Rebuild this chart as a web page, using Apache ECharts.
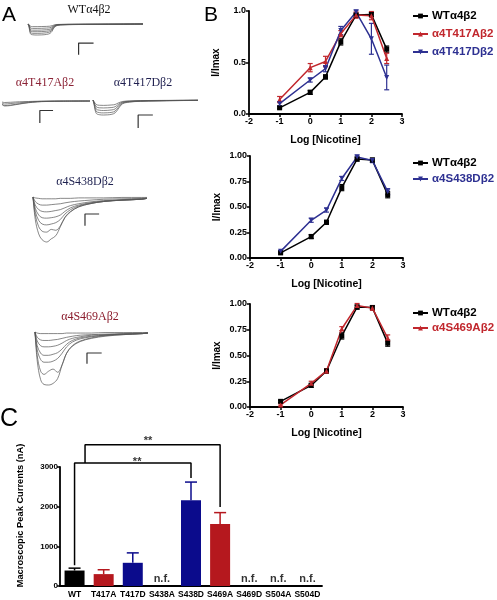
<!DOCTYPE html>
<html><head><meta charset="utf-8">
<script src="https://cdn.jsdelivr.net/npm/echarts@6/dist/echarts.min.js"></script>
<style>html,body{margin:0;padding:0;background:#fff}#c{width:497px;height:600px}</style>
</head><body><div id="c"></div>
<script>
// ---------- Panel B data (concentration-response) ----------
const logConc = [-1, 0, 0.5, 1, 1.5, 2, 2.5];
const b1WT = [0.06, 0.21, 0.36, 0.70, 0.96, 0.965, 0.63];
const b1WTErr = [0.01, 0.02, 0.02, 0.03, 0.02, 0.02, 0.03];
const b1T417A = [0.14, 0.45, 0.51, 0.78, 0.96, 0.955, 0.54];
const b1T417AErr = [0.03, 0.04, 0.05, 0.03, 0.03, 0.04, 0.05];
const b1T417D = [0.10, 0.33, 0.44, 0.81, 0.99, 0.73, 0.355];
const b1T417DErr = [0.02, 0.02, 0.03, 0.04, 0.02, 0.15, 0.12];
const b2WT = [0.05, 0.21, 0.35, 0.69, 0.97, 0.96, 0.62];
const b2WTErr = [0.01, 0.02, 0.02, 0.03, 0.02, 0.02, 0.03];
const b2S438D = [0.065, 0.37, 0.47, 0.78, 0.99, 0.955, 0.65];
const b2S438DErr = [0.01, 0.02, 0.02, 0.02, 0.02, 0.02, 0.03];
const b3WT = [0.055, 0.21, 0.35, 0.69, 0.97, 0.965, 0.62];
const b3WTErr = [0.01, 0.02, 0.02, 0.03, 0.02, 0.02, 0.03];
const b3S469A = [0.02, 0.23, 0.35, 0.76, 0.985, 0.96, 0.67];
const b3S469AErr = [0.01, 0.02, 0.02, 0.02, 0.02, 0.02, 0.03];
const xTicksB = [-2, -1, 0, 1, 2, 3];

// ---------- Panel C data (peak currents) ----------
const barCats = ['WT', 'T417A', 'T417D', 'S438A', 'S438D', 'S469A', 'S469D', 'S504A', 'S504D'];
const barVals = [390, 300, 585, null, 2160, 1560, null, null, null];
const barErrTop = [450, 410, 835, null, 2620, 1850, null, null, null];
const nfIdx = [3, 6, 7, 8];
const yTicksC = [0, 1000, 2000, 3000];
// significance brackets: [x (category position), value]
const bracketLow = [[0, 520], [0, 3100], [4, 3100], [4, 2720]];
const bracketHigh = [[0.36, 3100], [0.36, 3560], [5, 3560], [5, 1990]];
const starsPos = [[2.15, 3130], [2.52, 3660]];

// ---------- Panel A data (current traces, normalized) ----------
const tWT = [0, 1, 2, 4, 8, 12, 16, 19, 21, 23, 26, 30, 40, 60, 80, 100];
const trWT = [
  [0, -0.05, -0.2, -0.24, -0.24, -0.23, -0.22, -0.2, -0.15, -0.08, -0.04, -0.03, -0.02, -0.01, -0.01, 0],
  [0, -0.1, -0.35, -0.4, -0.4, -0.39, -0.37, -0.34, -0.25, -0.12, -0.06, -0.04, -0.03, -0.02, -0.01, 0],
  [0, -0.15, -0.5, -0.56, -0.56, -0.55, -0.52, -0.48, -0.35, -0.16, -0.07, -0.05, -0.03, -0.02, -0.01, 0],
  [0, -0.2, -0.62, -0.7, -0.7, -0.69, -0.66, -0.6, -0.45, -0.2, -0.08, -0.06, -0.04, -0.03, -0.02, 0],
  [0, -0.25, -0.75, -0.85, -0.85, -0.84, -0.8, -0.72, -0.55, -0.24, -0.1, -0.07, -0.05, -0.03, -0.02, 0],
  [0, -0.3, -0.88, -0.98, -1.0, -0.99, -0.95, -0.86, -0.65, -0.28, -0.12, -0.08, -0.05, -0.04, -0.02, 0]
];
const scaleWT = [[44, -2.8], [44, -1.73], [57, -1.73]];

const tT417A = [0, 3, 10, 20, 30, 40, 50, 70, 100];
const trT417A = [
  [-0.2, -0.3, -0.25, -0.15, -0.1, -0.05, -0.03, -0.01, 0],
  [-0.4, -0.6, -0.5, -0.35, -0.2, -0.1, -0.05, -0.02, 0],
  [-0.6, -0.9, -0.8, -0.55, -0.3, -0.15, -0.08, -0.03, 0],
  [-0.7, -1.0, -0.9, -0.6, -0.35, -0.18, -0.1, -0.04, -0.01]
];
const scaleT417A = [[43, -4.4], [43, -1.9], [58, -1.9]];

const tT417D = [0, 1, 3, 6, 10, 14, 18, 21, 24, 28, 35, 45, 60, 80, 100];
const trT417D = [
  [0, -0.1, -0.3, -0.35, -0.36, -0.35, -0.33, -0.3, -0.2, -0.1, -0.06, -0.04, -0.03, -0.02, -0.01],
  [0, -0.15, -0.45, -0.52, -0.53, -0.52, -0.5, -0.45, -0.3, -0.14, -0.08, -0.05, -0.04, -0.03, -0.02],
  [0, -0.2, -0.6, -0.68, -0.7, -0.69, -0.66, -0.6, -0.4, -0.18, -0.1, -0.07, -0.05, -0.03, -0.02],
  [0, -0.25, -0.75, -0.84, -0.86, -0.85, -0.82, -0.74, -0.5, -0.22, -0.12, -0.08, -0.06, -0.04, -0.02],
  [0, -0.3, -0.88, -0.98, -1.0, -0.99, -0.95, -0.86, -0.6, -0.26, -0.14, -0.09, -0.06, -0.04, -0.03]
];
const scaleT417D = [[43, -1.87], [43, -1.0], [57, -1.0]];

const tS438D = [0, 2, 5, 8, 12, 16, 20, 24, 28, 33, 40, 50, 62, 78, 95, 100];
const trS438D = [
  [0, -0.02, -0.03, -0.04, -0.04, -0.04, -0.04, -0.03, -0.03, -0.03, -0.02, -0.02, -0.02, -0.01, -0.01, -0.01],
  [0, -0.10, -0.16, -0.18, -0.18, -0.17, -0.16, -0.15, -0.13, -0.11, -0.09, -0.07, -0.05, -0.04, -0.03, -0.02],
  [0, -0.18, -0.28, -0.32, -0.33, -0.32, -0.30, -0.28, -0.24, -0.19, -0.15, -0.11, -0.08, -0.06, -0.04, -0.03],
  [0, -0.25, -0.40, -0.46, -0.47, -0.46, -0.44, -0.40, -0.32, -0.24, -0.18, -0.13, -0.09, -0.07, -0.05, -0.03],
  [0, -0.32, -0.52, -0.60, -0.62, -0.60, -0.57, -0.50, -0.38, -0.28, -0.20, -0.14, -0.10, -0.07, -0.05, -0.03],
  [0, -0.40, -0.66, -0.76, -0.78, -0.72, -0.74, -0.64, -0.45, -0.32, -0.22, -0.15, -0.10, -0.07, -0.05, -0.03],
  [0, -0.50, -0.82, -0.95, -1.00, -0.93, -0.86, -0.66, -0.46, -0.33, -0.22, -0.15, -0.10, -0.07, -0.05, -0.03]
];
const scaleS438D = [[45.6, -0.64], [45.6, -0.378], [58, -0.378]];

const tS469A = [0, 2, 5, 8, 12, 16, 20, 24, 28, 33, 40, 50, 62, 78, 95, 100];
const trS469A = [
  [0, -0.02, -0.03, -0.03, -0.03, -0.03, -0.03, -0.03, -0.02, -0.02, -0.02, -0.02, -0.01, -0.01, -0.01, -0.01],
  [0, -0.10, -0.15, -0.16, -0.16, -0.15, -0.14, -0.12, -0.10, -0.08, -0.06, -0.05, -0.04, -0.03, -0.02, -0.02],
  [0, -0.17, -0.26, -0.28, -0.28, -0.27, -0.25, -0.21, -0.16, -0.12, -0.09, -0.06, -0.05, -0.04, -0.03, -0.02],
  [0, -0.26, -0.40, -0.44, -0.44, -0.42, -0.39, -0.32, -0.23, -0.16, -0.11, -0.08, -0.06, -0.04, -0.03, -0.02],
  [0, -0.34, -0.52, -0.57, -0.57, -0.55, -0.50, -0.40, -0.28, -0.19, -0.13, -0.09, -0.06, -0.04, -0.03, -0.02],
  [0, -0.45, -0.74, -0.80, -0.74, -0.70, -0.76, -0.62, -0.40, -0.26, -0.17, -0.11, -0.07, -0.05, -0.03, -0.02],
  [0, -0.55, -0.90, -0.99, -1.00, -0.97, -0.88, -0.62, -0.40, -0.27, -0.18, -0.12, -0.08, -0.05, -0.03, -0.02]
];
const scaleS469A = [[46, -0.6], [46, -0.396], [59, -0.396]];

// ---------- styles ----------
const FONT = 'Liberation Sans, Arial, Helvetica, sans-serif';
const SERIF = 'Liberation Serif, Times New Roman, serif';
const RED = '#c1272d', BLUE = '#2e3192', BLK = '#000';
const BAR_RED = '#b5181e', BAR_BLUE = '#0b0b8c';
const TRACE = '#555';

const chart = echarts.init(document.getElementById('c'), null, {renderer: 'canvas'});

const grids = [
  {left: 28, top: 24, width: 115, height: 11},   // 0 WT traces
  {left: 2, top: 101, width: 88, height: 5},     // 1 T417A
  {left: 93, top: 100, width: 105, height: 15},  // 2 T417D
  {left: 33, top: 197, width: 114, height: 45},  // 3 S438D
  {left: 35, top: 332, width: 113, height: 53},  // 4 S469A
  {left: 249, top: 11, width: 153, height: 103}, // 5 B1
  {left: 250, top: 156, width: 153, height: 102},// 6 B2
  {left: 250, top: 304, width: 153, height: 103},// 7 B3
  {left: 60, top: 467, width: 262, height: 119}  // 8 C
];

const xAxes = [], yAxes = [];
for (let i = 0; i < 5; i++) {
  xAxes.push({gridIndex: i, type: 'value', min: 0, max: 100, show: false});
  yAxes.push({gridIndex: i, type: 'value', min: -1, max: 0, show: false});
}
function bX(gi) {
  return {gridIndex: gi, type: 'value', min: xTicksB[0], max: xTicksB[xTicksB.length - 1], interval: 1,
    axisLine: {onZero: false, lineStyle: {color: '#000', width: 1.8}}, axisTick: {length: 3, lineStyle: {width: 1.5, color: '#000'}},
    axisLabel: {color: '#000', fontWeight: 'bold', fontSize: 9, fontFamily: FONT, margin: 3},
    splitLine: {show: false},
    name: 'Log [Nicotine]', nameLocation: 'middle', nameGap: 21,
    nameTextStyle: {color: '#000', fontWeight: 'bold', fontSize: 10.5, fontFamily: FONT}};
}
function bY(gi, interval, dec) {
  return {gridIndex: gi, type: 'value', min: 0, max: 1, interval: interval,
    axisLine: {show: true, onZero: false, lineStyle: {color: '#000', width: 1.8}}, axisTick: {show: true, length: 3, lineStyle: {width: 1.5, color: '#000'}},
    axisLabel: {color: '#000', fontWeight: 'bold', fontSize: 9, fontFamily: FONT, margin: 3, formatter: v => v.toFixed(dec)},
    splitLine: {show: false},
    name: 'I/Imax', nameLocation: 'middle', nameGap: 28,
    nameTextStyle: {color: '#000', fontWeight: 'bold', fontSize: 10, fontFamily: FONT}};
}
xAxes.push(bX(5), bX(6), bX(7));
yAxes.push(bY(5, 0.5, 1), bY(6, 0.25, 2), bY(7, 0.25, 2));
// C axes
xAxes.push({gridIndex: 8, type: 'category', data: barCats,
  axisLine: {onZero: false, lineStyle: {color: '#000', width: 1.8}}, axisTick: {show: false},
  axisLabel: {color: '#000', fontWeight: 'bold', fontSize: 8.5, fontFamily: FONT, margin: 4, interval: 0}});
xAxes.push({gridIndex: 8, type: 'value', min: -0.5, max: barCats.length - 0.5, show: false});
yAxes.push({gridIndex: 8, type: 'value', min: yTicksC[0], max: yTicksC[yTicksC.length - 1], interval: 1000,
  axisLine: {show: true, onZero: false, lineStyle: {color: '#000', width: 1.8}}, axisTick: {show: true, length: 3, lineStyle: {width: 1.5, color: '#000'}},
  axisLabel: {color: '#000', fontWeight: 'bold', fontSize: 8, fontFamily: FONT, margin: 2, formatter: v => String(v)},
  splitLine: {show: false},
  name: 'Macroscopic Peak Currents (nA)', nameLocation: 'middle', nameGap: 35,
  nameTextStyle: {color: '#000', fontWeight: 'bold', fontSize: 9.3, fontFamily: FONT, padding: [0, 0, 0, 22]}});

const series = [];
function addTraces(gi, t, trs, scale) {
  trs.forEach(tr => series.push({type: 'line', xAxisIndex: gi, yAxisIndex: gi, data: t.map((x, j) => [x, tr[j]]),
    symbol: 'none', smooth: 0.35, clip: false, silent: true, lineStyle: {color: TRACE, width: 0.7}}));
  series.push({type: 'line', xAxisIndex: gi, yAxisIndex: gi, data: scale, symbol: 'none', clip: false, silent: true,
    lineStyle: {color: '#333', width: 1.2}});
}
addTraces(0, tWT, trWT, scaleWT);
addTraces(1, tT417A, trT417A, scaleT417A);
addTraces(2, tT417D, trT417D, scaleT417D);
addTraces(3, tS438D, trS438D, scaleS438D);
addTraces(4, tS469A, trS469A, scaleS469A);

function errB(gi, ys, es, color) {
  return {type: 'custom', xAxisIndex: gi, yAxisIndex: gi, silent: true, z: 1,
    data: logConc.map((x, i) => [x, ys[i], es[i]]),
    renderItem: (p, api) => {
      const x = api.value(0), y = api.value(1), e = api.value(2);
      const a = api.coord([x, y + e]), b = api.coord([x, y - e]);
      const s = {stroke: color, lineWidth: 1.2};
      return {type: 'group', children: [
        {type: 'line', shape: {x1: a[0], y1: a[1], x2: b[0], y2: b[1]}, style: s},
        {type: 'line', shape: {x1: a[0] - 2.5, y1: a[1], x2: a[0] + 2.5, y2: a[1]}, style: s},
        {type: 'line', shape: {x1: b[0] - 2.5, y1: b[1], x2: b[0] + 2.5, y2: b[1]}, style: s}
      ]};
    }};
}
function lineB(gi, name, ys, color, symbol, rot) {
  return {type: 'line', name: name, xAxisIndex: gi, yAxisIndex: gi, data: logConc.map((x, i) => [x, ys[i]]),
    symbol: symbol, symbolSize: 5, symbolRotate: rot || 0, z: 3,
    lineStyle: {color: color, width: 1.5}, itemStyle: {color: color}};
}
series.push(errB(5, b1WT, b1WTErr, BLK), errB(5, b1T417A, b1T417AErr, RED), errB(5, b1T417D, b1T417DErr, BLUE));
series.push(lineB(5, 'WTα4β2', b1WT, BLK, 'rect'), lineB(5, 'α4T417Aβ2', b1T417A, RED, 'triangle'), lineB(5, 'α4T417Dβ2', b1T417D, BLUE, 'triangle', 180));
series.push(errB(6, b2WT, b2WTErr, BLK), errB(6, b2S438D, b2S438DErr, BLUE));
series.push(lineB(6, 'WTα4β2', b2WT, BLK, 'rect'), lineB(6, 'α4S438Dβ2', b2S438D, BLUE, 'triangle', 180));
series.push(errB(7, b3WT, b3WTErr, BLK), errB(7, b3S469A, b3S469AErr, RED));
series.push(lineB(7, 'WTα4β2', b3WT, BLK, 'rect'), lineB(7, 'α4S469Aβ2', b3S469A, RED, 'triangle'));

// C
const barColors = [BLK, BAR_RED, BAR_BLUE, BLK, BAR_BLUE, BAR_RED, BLK, BLK, BLK];
series.push({type: 'bar', name: 'peak', xAxisIndex: 8, yAxisIndex: 8, barWidth: 20, silent: true,
  data: barVals.map((v, i) => ({value: v, itemStyle: {color: barColors[i]}}))});
series.push({type: 'custom', xAxisIndex: 8, yAxisIndex: 8, silent: true, z: 3,
  data: barVals.map((v, i) => v == null ? null : {value: [i, v, barErrTop[i]], itemStyle: {color: barColors[i]}}).filter(d => d),
  renderItem: (p, api) => {
    const i = api.value(0), v = api.value(1), u = api.value(2);
    const a = api.coord([i, v]), b = api.coord([i, u]);
    const s = {stroke: api.visual('color'), lineWidth: 1.5};
    return {type: 'group', children: [
      {type: 'line', shape: {x1: a[0], y1: a[1], x2: b[0], y2: b[1]}, style: s},
      {type: 'line', shape: {x1: b[0] - 6, y1: b[1], x2: b[0] + 6, y2: b[1]}, style: s}
    ]};
  }});
series.push({type: 'scatter', xAxisIndex: 8, yAxisIndex: 8, symbolSize: 0, silent: true,
  data: nfIdx.map(i => [i, 0]),
  label: {show: true, position: 'top', distance: 2, formatter: 'n.f.', color: '#000', fontWeight: 'bold', fontSize: 11, fontFamily: FONT}});
[bracketLow, bracketHigh].forEach(br => series.push({type: 'line', xAxisIndex: 9, yAxisIndex: 8, data: br,
  symbol: 'none', clip: false, silent: true, lineStyle: {color: '#000', width: 1.5}}));
series.push({type: 'scatter', xAxisIndex: 9, yAxisIndex: 8, symbolSize: 0, silent: true, clip: false,
  data: starsPos,
  label: {show: true, position: 'inside', formatter: '**', color: '#000', fontWeight: 'bold', fontSize: 11, fontFamily: FONT}});

function legendCfg(top, items, gap) {
  return {orient: 'vertical', left: 412, top: top, itemWidth: 15, itemHeight: 6, itemGap: gap, selectedMode: false,
    padding: 0,
    textStyle: {fontWeight: 'bold', fontSize: 11.5, fontFamily: FONT, padding: [0, 0, 0, -1]},
    data: items.map(([n, c]) => ({name: n, textStyle: {color: c}}))};
}

const txt = (text, x, y, color, size, family) => ({type: 'text', x: x, y: y, silent: true,
  style: {text: text, fill: color, font: `${size}px ${family}`, textAlign: 'center', textVerticalAlign: 'middle'}});

chart.setOption({
  animation: false,
  backgroundColor: '#fff',
  grid: grids,
  xAxis: xAxes,
  yAxis: yAxes,
  legend: [
    legendCfg(10, [['WTα4β2', BLK], ['α4T417Aβ2', RED], ['α4T417Dβ2', BLUE]], 6),
    legendCfg(157, [['WTα4β2', BLK], ['α4S438Dβ2', BLUE]], 4),
    legendCfg(307, [['WTα4β2', BLK], ['α4S469Aβ2', RED]], 3)
  ],
  graphic: [
    txt('A', 9, 15, '#000', 21, FONT),
    txt('B', 211, 15, '#000', 21, FONT),
    txt('C', 9, 419, '#000', 25, FONT),
    txt('WTα4β2', 89, 10, '#111', 12, SERIF),
    txt('α4T417Aβ2', 45, 83, '#8b2235', 12, SERIF),
    txt('α4T417Dβ2', 143, 83, '#1f1f4f', 12, SERIF),
    txt('α4S438Dβ2', 85, 182, '#1f2250', 12, SERIF),
    txt('α4S469Aβ2', 90, 317, '#8b1c2c', 12, SERIF)
  ],
  series: series
});
</script></body></html>
